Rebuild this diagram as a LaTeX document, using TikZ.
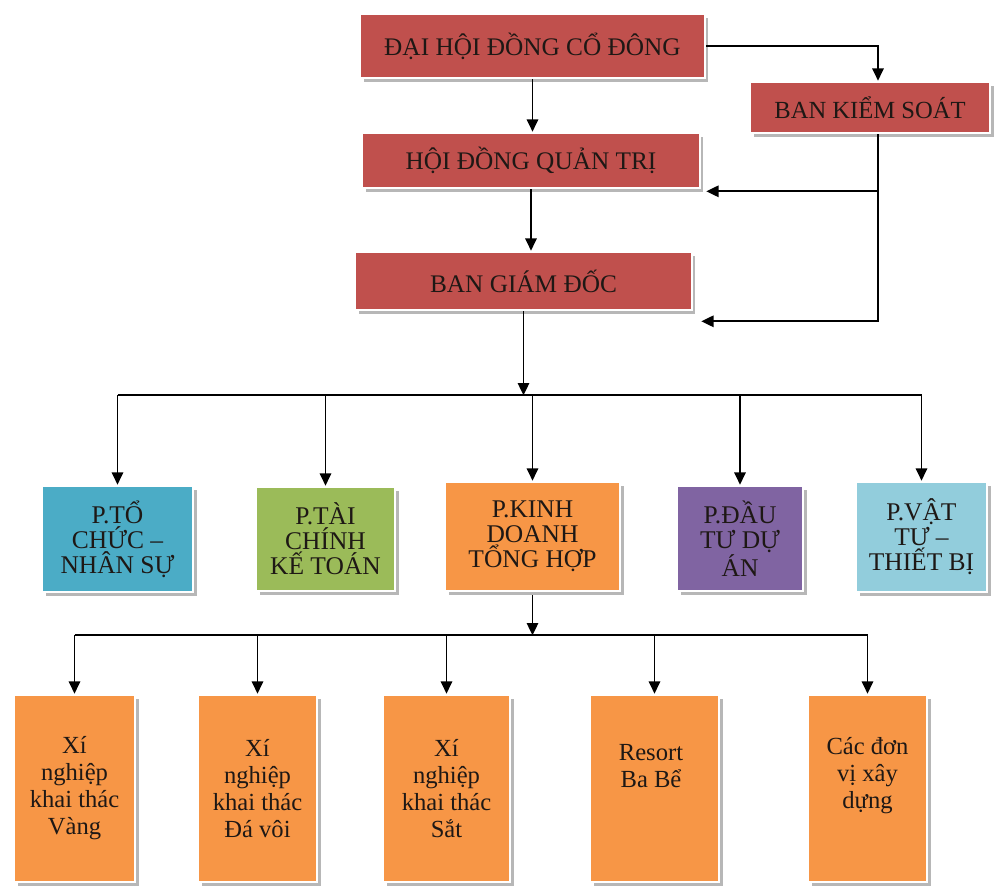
\documentclass[tikz,border=0pt]{standalone}
\usepackage{fontspec}
\setmainfont{Liberation Serif}
\usetikzlibrary{arrows.meta,shadows,calc}

\definecolor{topred}{HTML}{C0504D}
\definecolor{tcblue}{HTML}{4BACC6}
\definecolor{ktgreen}{HTML}{9BBB59}
\definecolor{kdorange}{HTML}{F79646}
\definecolor{dtpurple}{HTML}{8064A2}
\definecolor{vtblue}{HTML}{92CDDC}
\definecolor{inkdark}{HTML}{1E1815}

\newcommand\hdfont{\fontsize{14.4}{15}\selectfont}
\newcommand\phfont{\fontsize{14.5}{14.2}\selectfont}
\newcommand\xnfont{\fontsize{14}{15.4}\selectfont}

\tikzset{
  box/.style={rectangle, draw=white, line width=1.5pt, text=inkdark,
    align=center, inner sep=0pt,
    drop shadow={shadow xshift=2pt, shadow yshift=-2.2pt, fill=black!35, opacity=0.8}},
  unit/.style={box, fill=kdorange, minimum height=3.74cm, font=\xnfont},
  utext/.style={text=inkdark, align=center, inner sep=0pt, font=\xnfont},
  arr/.style={-{Triangle[length=7pt,width=6.5pt]}, line width=1pt},
}

\begin{document}
\begin{tikzpicture}[x=0.02cm,y=-0.02cm]
\useasboundingbox[fill=white] (0,0) rectangle (994,888);
% ban lanh dao
\node[box,fill=topred,minimum width=6.9cm,minimum height=1.28cm,font=\hdfont] (dhcd) at (532.5,46) {ĐẠI HỘI ĐỒNG CỔ ĐÔNG};
\node[box,fill=topred,minimum width=4.8cm,minimum height=1.02cm,font=\fontsize{14}{14.5}\selectfont] (bks) at (870,107.5) {BAN KIỂM SOÁT};
\node[box,fill=topred,minimum width=6.76cm,minimum height=1.1cm,font=\hdfont] (hdqt) at (531,160.5) {HỘI ĐỒNG QUẢN TRỊ};
\node[box,fill=topred,minimum width=6.74cm,minimum height=1.16cm,font=\hdfont] (bgd) at (523.5,281) {BAN GIÁM ĐỐC};
% cac phong
\node[box,fill=tcblue,minimum width=3.02cm,minimum height=2.12cm,font=\phfont] (tc) at (117.5,539) {P.TỔ\\CHỨC –\\NHÂN SỰ};
\node[box,fill=ktgreen,minimum width=2.78cm,minimum height=2.08cm,font=\phfont] (tckt) at (325.5,539) {P.TÀI\\CHÍNH\\KẾ TOÁN};
\node[box,fill=kdorange,minimum width=3.5cm,minimum height=2.18cm,font=\phfont] (kd) at (532.5,536.5) {P.KINH\\DOANH\\TỔNG HỢP};
\node[box,fill=dtpurple,minimum width=2.52cm,minimum height=2.1cm,font=\phfont] (dt) at (740,538.5) {P.ĐẦU\\TƯ DỰ\\ÁN};
\node[box,fill=vtblue,minimum width=2.62cm,minimum height=2.2cm,font=\phfont] (vt) at (921.5,537) {P.VẬT\\TƯ –\\THIẾT BỊ};
% don vi truc thuoc
\node[unit,minimum width=2.42cm] (vang) at (74.5,788.5) {Xí\\nghiệp\\khai thác\\Vàng};
\node[unit,minimum width=2.38cm] (davoi) at (257.5,788.5) {Xí\\nghiệp\\khai thác\\Đá vôi};
\node[unit,minimum width=2.54cm] (sat) at (446.5,788.5) {Xí\\nghiệp\\khai thác\\Sắt};
\node[unit,minimum width=2.58cm] (resort) at (654.5,788.5) {};
\node[unit,minimum width=2.38cm] (xaydung) at (867.5,788.5) {};
\node[utext] (resorttext) at (651,766) {Resort\\Ba Bể};
\node[utext] (xaydungtext) at (867.5,776) {Các đơn\\vị xây\\dựng};

% lien ket
\draw[arr] (dhcd.east) -| ($(bks.north)+(8,0)$);
\draw[arr] (dhcd.south) -- (dhcd.south |- hdqt.north);
\draw[arr] (hdqt.south) -- (hdqt.south |- bgd.north);
\coordinate (ksline) at ($(bks.south)+(8,0)$);
\draw[arr] (ksline) |- ($(hdqt.south east)+(5,2)$);
\draw[arr] (ksline) |- ($(bgd.south east)+(8,10)$);

\coordinate (bus1) at ($(bgd.south)+(0,84)$);
\draw[arr] (bgd.south) -- (bus1);
\draw[line width=1pt] (bus1 -| tc.north) -- (bus1 -| vt.north);
\foreach \p in {tc,tckt,kd,dt,vt}
  \draw[arr] (bus1 -| \p.north) -- (\p.north);

\coordinate (bus2) at ($(kd.south)+(-5,43)$);
\draw[arr] (kd.south |- 0,595) -- (kd.south |- bus2);
\draw[line width=1pt] (bus2 -| vang.north) -- (bus2 -| xaydung.north);
\foreach \u in {vang,davoi,sat,resort,xaydung}
  \draw[arr] (bus2 -| \u.north) -- (\u.north);
\end{tikzpicture}
\end{document}
